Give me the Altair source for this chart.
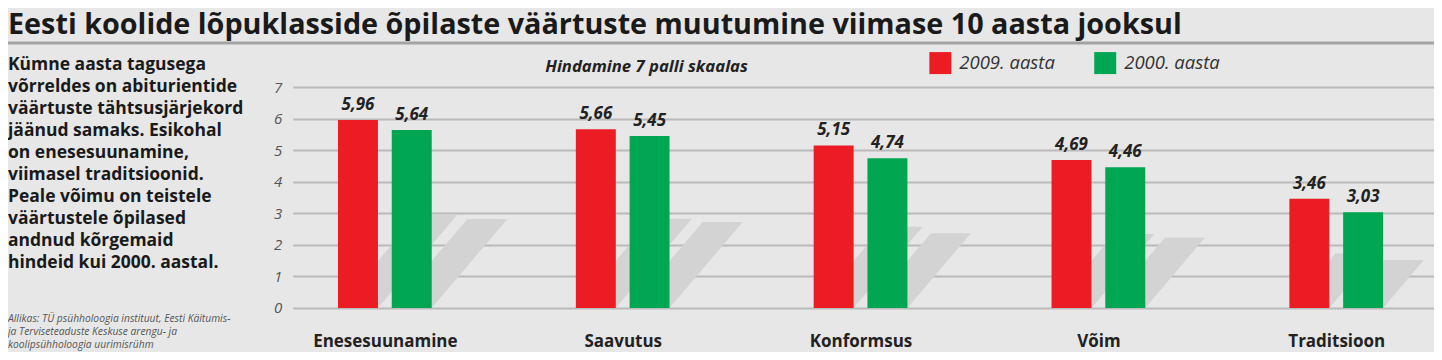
import altair as alt
import pandas as pd

# ---------------- data ----------------
categories = ["Enesesuunamine", "Saavutus", "Konformsus", "Võim", "Traditsioon"]
values_2009 = [5.96, 5.66, 5.15, 4.69, 3.46]
values_2000 = [5.64, 5.45, 4.74, 4.46, 3.03]
years = ["2009. aasta", "2000. aasta"]
year_colors = ["#ec1c24", "#00a651"]
y_ticks = [0, 1, 2, 3, 4, 5, 6, 7]

title_text = "Eesti koolide lõpuklasside õpilaste väärtuste muutumine viimase 10 aasta jooksul"
subtitle_text = "Hindamine 7 palli skaalas"
intro_lines = [
    "Kümne aasta tagusega",
    "võrreldes on abiturientide",
    "väärtuste tähtsusjärjekord",
    "jäänud samaks. Esikohal",
    "on enesesuunamine,",
    "viimasel traditsioonid.",
    "Peale võimu on teistele",
    "väärtustele õpilased",
    "andnud  kõrgemaid",
    "hindeid kui 2000. aastal.",
]
source_lines = [
    "Allikas: TÜ psühholoogia instituut, Eesti Käitumis-",
    "ja Terviseteaduste Keskuse arengu- ja",
    "koolipsühholoogia uurimisrühm",
]

rows = []
for i, c in enumerate(categories):
    rows.append({"cat": c, "idx": i, "year": years[0], "side": 0, "value": values_2009[i]})
    rows.append({"cat": c, "idx": i, "year": years[1], "side": 1, "value": values_2000[i]})
df = pd.DataFrame(rows)
one = pd.DataFrame({"k": [0]})

FONT = "Open Sans"
W, H = 1142, 221

x_scale = alt.Scale(domain=[-0.387, 4.411], nice=False, zero=False)
y_scale = alt.Scale(domain=[0, 7], nice=False)

label_expr = "[" + ",".join("'" + c + "'" for c in categories) + "][datum.value]"
x_axis = alt.Axis(values=list(range(len(categories))), labelExpr=label_expr, title=None,
                  grid=False, ticks=False, domain=False, labelFont=FONT, labelFontSize=17,
                  labelFontWeight="bold", labelColor="#222222", labelPadding=39,
                  labelBaseline="alphabetic")
y_axis = alt.Axis(values=y_ticks, title=None, grid=True, gridColor="#bababa", gridWidth=2,
                  domain=False, ticks=False, labelFont=FONT, labelFontSize=15,
                  labelFontStyle="italic", labelColor="#555555", labelPadding=11, format="d")

geom = dict(
    xl="datum.idx - 0.197 + datum.side * 0.226",
)

base = alt.Chart(df).transform_calculate(**geom).transform_calculate(
    xr="datum.xl + 0.168", xc="datum.xl + 0.084", y0="0",
    lbl="replace(format(datum.value, '.2f'), '.', ',')",
)

# shadows (parallelograms leaning right, half the bar height)
shadows = alt.Chart(df).transform_calculate(**geom).transform_calculate(
    xr="datum.xl + 0.168", f0="0", f1="1", bid="datum.idx * 2 + datum.side"
).transform_fold(["f0", "f1"], as_=["fk", "f"]).transform_calculate(
    sy="datum.value * 0.5 * toNumber(datum.f)",
    dx="datum.value * 0.0564 * toNumber(datum.f)",
).transform_calculate(
    sxl="datum.xl + datum.dx", sxr="datum.xr + datum.dx"
).mark_area(orient="horizontal", color="#d3d3d3", opacity=1).encode(
    y=alt.Y("sy:Q", scale=y_scale, axis=y_axis),
    x=alt.X("sxl:Q", scale=x_scale, axis=x_axis),
    x2="sxr:Q",
    detail="bid:N",
)

bars = base.mark_rect().encode(
    x=alt.X("xl:Q", scale=x_scale, axis=x_axis),
    x2="xr:Q",
    y=alt.Y("value:Q", scale=y_scale, axis=y_axis),
    y2="y0:Q",
    color=alt.Color("year:N", scale=alt.Scale(domain=years, range=year_colors),
                    legend=alt.Legend(orient="none", legendX=637, legendY=-35,
                                      direction="horizontal", title=None,
                                      symbolType="square", symbolSize=484,
                                      symbolStrokeWidth=0, symbolOpacity=1,
                                      labelFont=FONT, labelFontSize=18.5,
                                      labelFontStyle="italic", labelColor="#333333",
                                      labelOffset=8, columnPadding=39, padding=0)),
)

value_labels = base.mark_text(font=FONT, fontSize=17, fontWeight="bold", fontStyle="italic",
                              color="#222222", baseline="alphabetic", dy=-10).encode(
    x=alt.X("xc:Q", scale=x_scale, axis=x_axis),
    y=alt.Y("value:Q", scale=y_scale, axis=y_axis),
    text="lbl:N",
)

title = alt.Chart(one).mark_text(font=FONT, fontSize=28.8, fontWeight="bold", color="#1a1a1a",
                                 align="left", baseline="alphabetic").encode(
    x=alt.value(-285), y=alt.value(-53), text=alt.value(title_text))

title_rule = alt.Chart(one).mark_rule(color="#a3a3a3", strokeWidth=3).encode(
    x=alt.value(-286), x2=alt.value(W + 2), y=alt.value(-44))

intro = alt.Chart(one).mark_text(font=FONT, fontSize=17.5, fontWeight="bold", color="#1a1a1a",
                                 align="left", baseline="alphabetic", lineHeight=22).encode(
    x=alt.value(-285), y=alt.value(-17), text=alt.value(intro_lines))

subtitle = alt.Chart(one).mark_text(font=FONT, fontSize=16.7, fontWeight="bold", fontStyle="italic",
                                    color="#222222", align="center", baseline="alphabetic").encode(
    x=alt.value(354), y=alt.value(-15), text=alt.value(subtitle_text))

source = alt.Chart(one).mark_text(font=FONT, fontSize=10.3, fontStyle="italic", color="#555555",
                                  align="left", baseline="alphabetic", lineHeight=13).encode(
    x=alt.value(-285), y=alt.value(235), text=alt.value(source_lines))

chart = alt.layer(shadows, bars, value_labels, title, title_rule, intro, subtitle, source).properties(
    width=W, height=H,
    autosize=alt.AutoSizeParams(type="none"),
    padding={"left": 285, "top": 79, "right": 0, "bottom": 44},
).configure(background="#e7e7e7").configure_view(stroke=None)

chart.save("out.html", embed_options={"renderer": "svg", "actions": False})
